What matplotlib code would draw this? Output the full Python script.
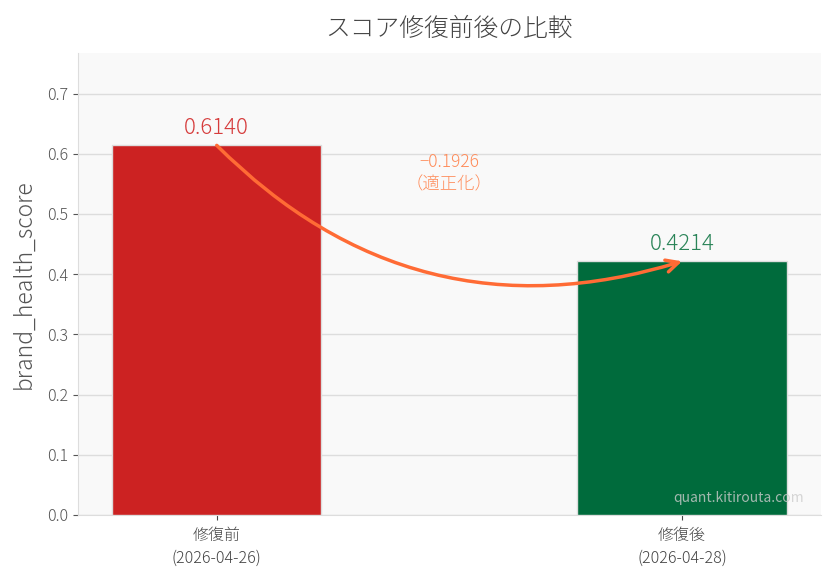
import matplotlib.pyplot as plt

plt.rcParams['font.family'] = ['Noto Sans CJK JP', 'DejaVu Sans']

# data
labels = ['修復前\n(2026-04-26)', '修復後\n(2026-04-28)']
scores = [0.6140, 0.4214]
colors = ['#cc2222', '#006b3c']
text_colors = ['#d63c3c', '#2a8458']
delta_text = '−0.1926\n（適正化）'

fig, ax = plt.subplots(figsize=(8.33, 5.76), dpi=100)
fig.patch.set_facecolor('white')
ax.set_facecolor('#f9f9f9')

x = range(len(scores))
bars = ax.bar(x, scores, width=0.45, color=colors, edgecolor='#dddddd', linewidth=1, zorder=3)

for i, v in enumerate(scores):
    ax.text(i, v + 0.011, f'{v:.4f}', ha='center', va='bottom', fontsize=16,
            color=text_colors[i], fontweight='light', zorder=4)

# arrow from before to after
ax.annotate('', xy=(1, scores[1]), xytext=(0, scores[0]),
            arrowprops=dict(arrowstyle='->', color='#ff6b35', lw=2.5,
                            connectionstyle='arc3,rad=0.3', shrinkA=0, shrinkB=0,
                            mutation_scale=22),
            zorder=5)
ax.text(0.5, (scores[0] + scores[1]) / 2 + 0.05, delta_text, ha='center', va='center',
        fontsize=12.5, color='#ff8c5a', fontweight='light', linespacing=1.25)

ax.set_xticks(list(x))
ax.set_xticklabels(labels, fontsize=11.5, color='#444444', fontweight='light', linespacing=1.45)
ax.set_ylim(0, max(scores) * 1.25)
ax.set_ylabel('brand_health_score', fontsize=16.5, color='#555555', fontweight='light', labelpad=8)
ax.set_title('スコア修復前後の比較', fontsize=17.8, color='#444444', pad=12, fontweight='light')
ax.tick_params(axis='y', labelsize=11.5, colors='#555555')
for lab in ax.get_yticklabels():
    lab.set_fontweight('light')
ax.tick_params(axis='x', colors='#444444', pad=5)

ax.grid(axis='y', color='#dddddd', linewidth=1, zorder=0)
ax.set_axisbelow(True)
ax.spines['top'].set_visible(False)
ax.spines['right'].set_visible(False)
ax.spines['left'].set_color('#dddddd')
ax.spines['bottom'].set_color('#dddddd')

ax.text(0.978, 0.022, 'quant.kitirouta.com', transform=ax.transAxes, ha='right', va='bottom',
        fontsize=10, color='#cccccc', alpha=0.8, zorder=6)

plt.subplots_adjust(left=0.094, right=0.985, top=0.908, bottom=0.106)
plt.savefig('out.png', dpi=100)
